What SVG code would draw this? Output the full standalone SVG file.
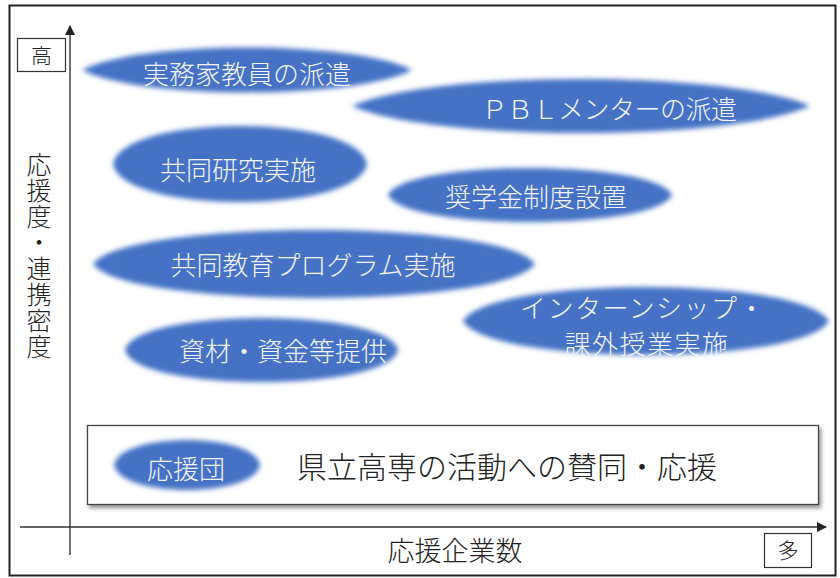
<svg xmlns="http://www.w3.org/2000/svg" width="840" height="578" viewBox="0 0 840 578">
<defs>
<filter id="soft" x="-10%" y="-40%" width="120%" height="180%">
<feGaussianBlur stdDeviation="2.6"/>
</filter>
<filter id="shadow" x="-5%" y="-20%" width="110%" height="150%">
<feGaussianBlur in="SourceAlpha" stdDeviation="2"/>
<feOffset dx="2" dy="3" result="b"/>
<feComponentTransfer><feFuncA type="linear" slope="0.45"/></feComponentTransfer>
<feMerge><feMergeNode/><feMergeNode in="SourceGraphic"/></feMerge>
</filter>
<marker id="arrow" viewBox="0 0 10 10" refX="9" refY="5" markerWidth="10" markerHeight="10" markerUnits="userSpaceOnUse" orient="auto">
<path d="M0,0 L10,5 L0,10 Z" fill="#222"/>
</marker>
</defs>
<style>
.blob{fill:#4472C4;filter:url(#soft);}
.wt{font-family:"Noto Sans CJK JP","Noto Sans",sans-serif;font-weight:300;fill:#f3f5fa;text-anchor:middle;font-size:26px;}
.bt{font-family:"Noto Sans CJK JP","Noto Sans",sans-serif;font-weight:300;fill:#222;text-anchor:middle;}
.axis{stroke:#333;stroke-width:1.4;fill:none;}
.lbox{fill:#fff;stroke:#333;stroke-width:1.2;}
</style>
<rect width="840" height="578" fill="#fff"/>
<rect x="9.5" y="5.5" width="826" height="570" fill="none" stroke="#222" stroke-width="2"/>

<g id="connectors">
<line class="axis" x1="70" y1="555" x2="70" y2="26" marker-end="url(#arrow)"/>
<line class="axis" x1="20" y1="527" x2="826" y2="527" marker-end="url(#arrow)"/>
</g>

<g id="label-high">
<rect class="lbox" x="17.5" y="38.5" width="48" height="33"/>
<text class="bt" x="41.5" y="63" font-size="21">高</text>
</g>
<g id="label-many">
<rect class="lbox" x="764.5" y="533.5" width="47" height="34"/>
<text class="bt" x="788" y="558" font-size="21">多</text>
</g>
<g id="label-y">
<text class="bt" x="39" y="152" font-size="25" writing-mode="vertical-rl" letter-spacing="1" style="text-anchor:start">応援度・連携密度</text>
</g>
<g id="label-x">
<text class="bt" x="455" y="561" font-size="27">応援企業数</text>
</g>

<g id="node-jitsumuka">
<path class="blob" d="M82,70 C140,40 354,40 412,70 C354,100 140,100 82,70Z"/>
<text class="wt" x="247" y="84">実務家教員の派遣</text>
</g>
<g id="node-pbl">
<path class="blob" d="M352,106 C434,70 728,70 810,106 C728,142 434,142 352,106Z"/>
<text class="wt" x="609" y="119" font-size="22" letter-spacing="-0.5">ＰＢＬメンターの派遣</text>
</g>
<g id="node-kyodo-kenkyu">
<path class="blob" d="M113,164 C122,113.3 358,113.3 367,164 C358,214.7 122,214.7 113,164Z"/>
<text class="wt" x="238" y="180">共同研究実施</text>
</g>
<g id="node-shogakukin">
<path class="blob" d="M388,195 C405,159 655,159 672,195 C655,231 405,231 388,195Z"/>
<text class="wt" x="536" y="207" font-size="25">奨学金制度設置</text>
</g>
<g id="node-kyodo-kyoiku">
<path class="blob" d="M93,264 C125,218.7 503,218.7 535,264 C503,309.3 125,309.3 93,264Z"/>
<text class="wt" x="313" y="275" font-size="26.5">共同教育プログラム実施</text>
</g>
<g id="node-intern">
<path class="blob" d="M463,321 C490,275.7 802,275.7 829,321 C802,366.3 490,366.3 463,321Z"/>
<text class="wt" x="643" y="318" font-size="24" letter-spacing="1.5">インターンシップ・</text>
<text class="wt" x="647" y="354" font-size="24" letter-spacing="1.5">課外授業実施</text>
</g>
<g id="node-shizai">
<path class="blob" d="M125,350 C135,307.3 388,307.3 398,350 C388,392.7 135,392.7 125,350Z"/>
<text class="wt" x="283" y="361">資材・資金等提供</text>
</g>

<g id="node-oendan">
<rect x="87.5" y="425.5" width="731" height="79" fill="#fff" stroke="#444" stroke-width="1.3" filter="url(#shadow)"/>
<path class="blob" d="M114,465 C120,431.7 254,431.7 260,465 C254,498.3 120,498.3 114,465Z"/>
<text class="wt" x="186" y="479">応援団</text>
<text class="bt" x="507" y="478" font-size="30">県立高専の活動への賛同・応援</text>
</g>
</svg>
